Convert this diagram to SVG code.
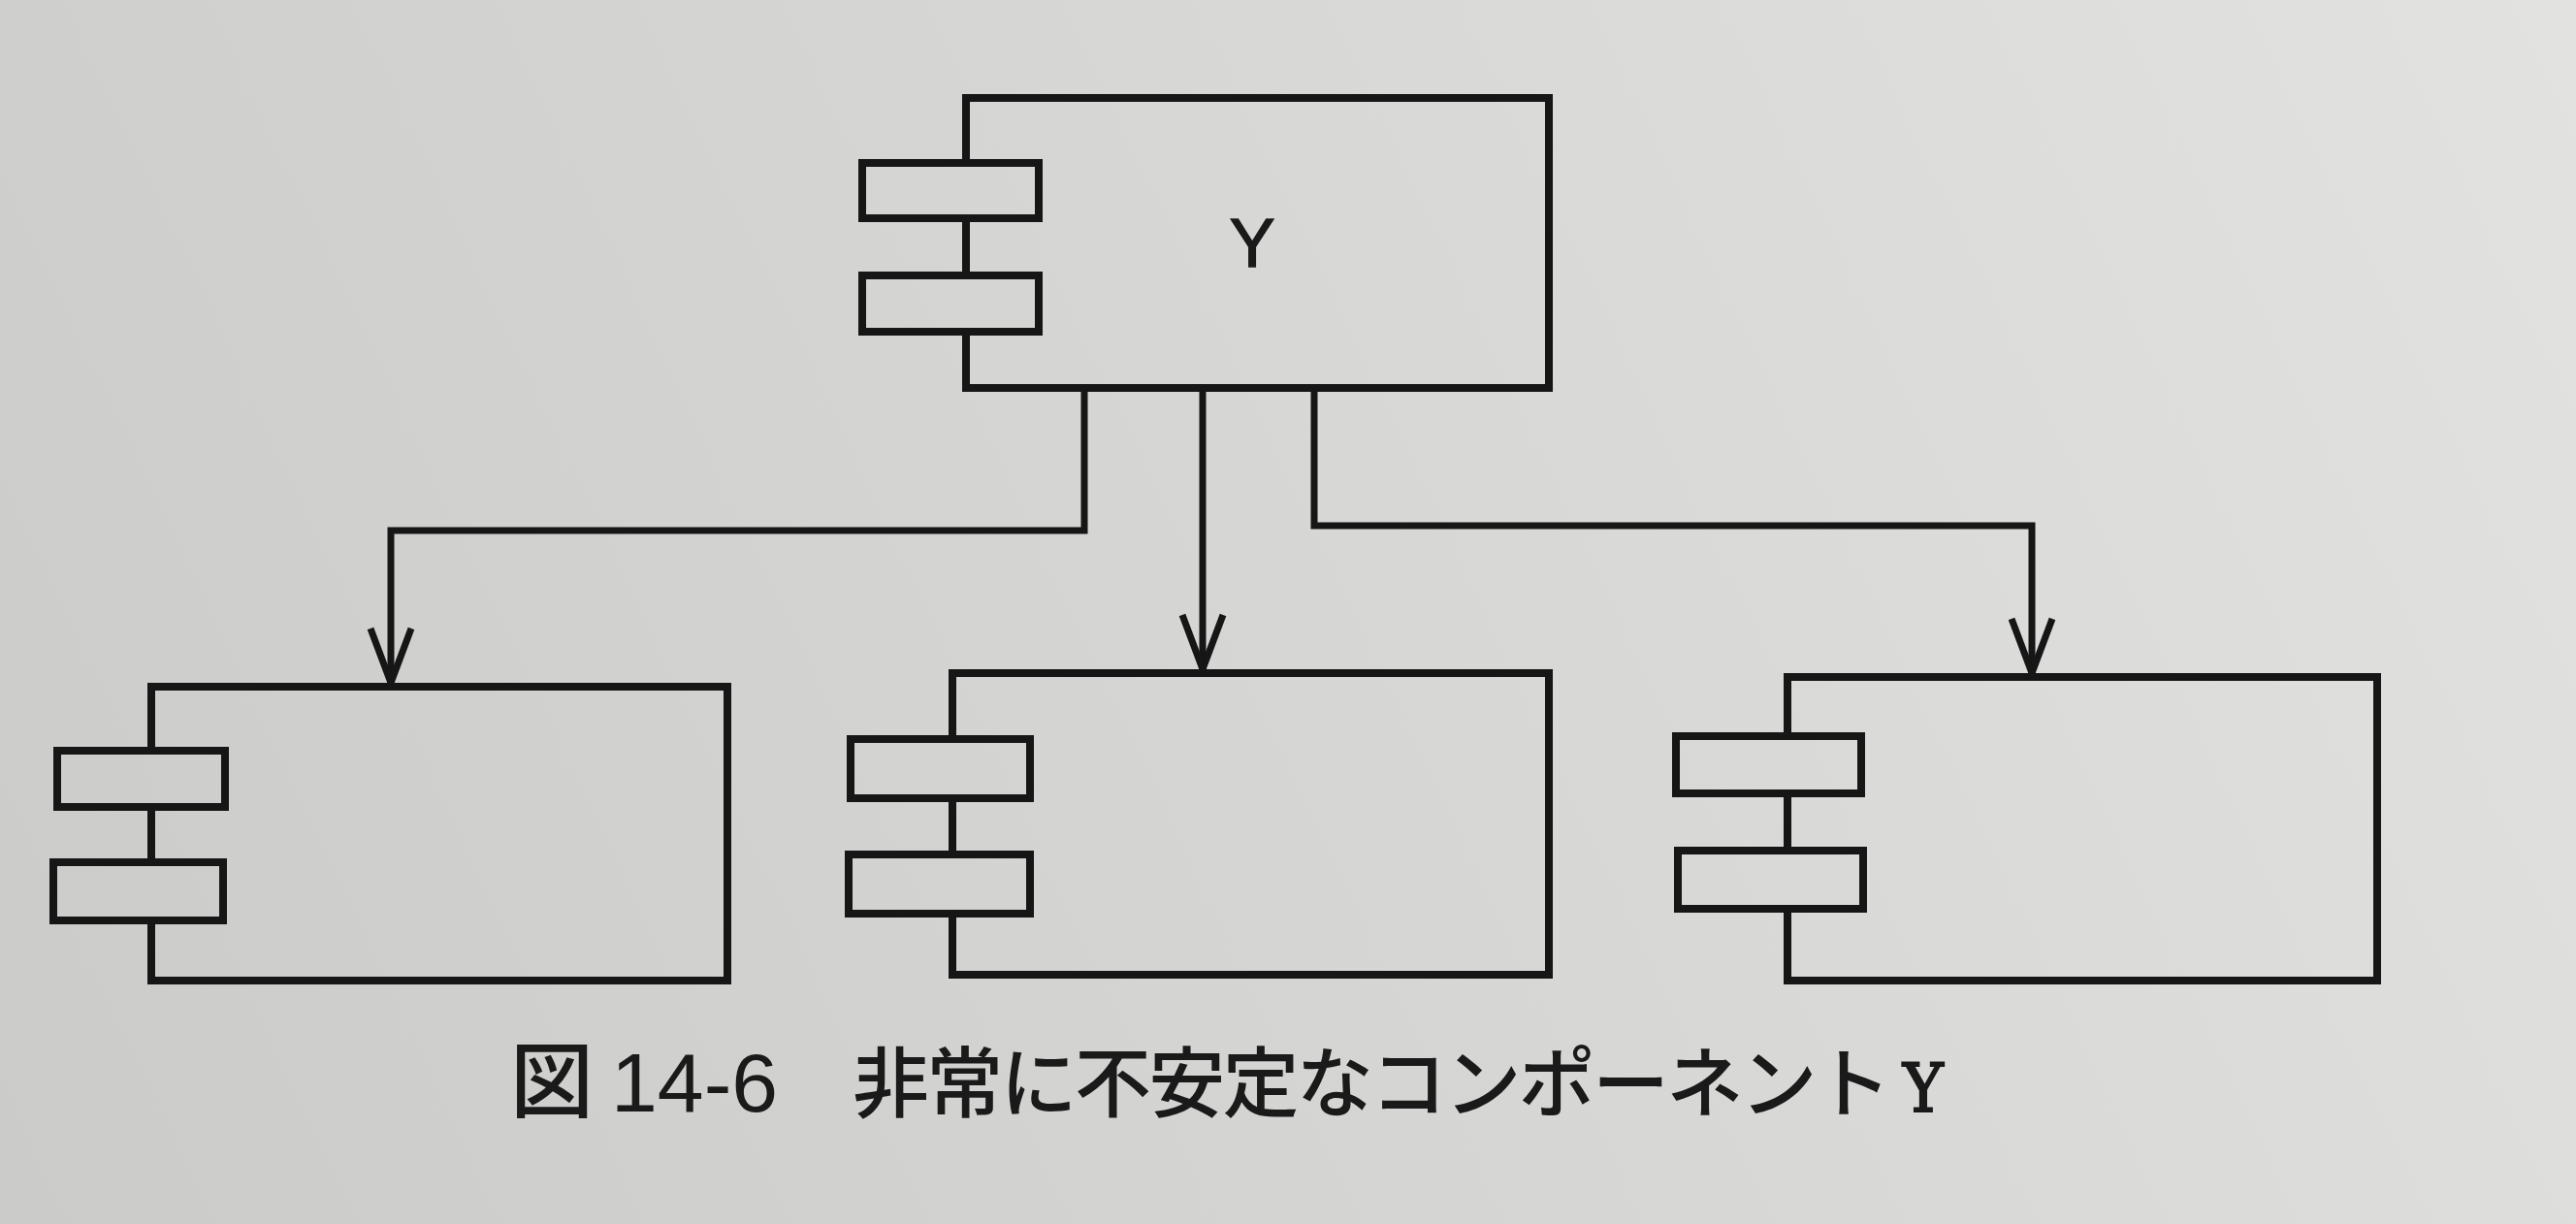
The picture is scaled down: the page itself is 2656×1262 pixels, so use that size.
<svg xmlns="http://www.w3.org/2000/svg" width="2656" height="1262" viewBox="0 0 2656 1262">
<defs>
<linearGradient id="paper" gradientUnits="userSpaceOnUse" x1="0" y1="1262" x2="2656" y2="0">
<stop offset="0" stop-color="#cbcbc9"/>
<stop offset="0.5" stop-color="#d6d6d4"/>
<stop offset="1" stop-color="#e2e2e0"/>
</linearGradient>
<marker id="arr" markerUnits="userSpaceOnUse" markerWidth="70" markerHeight="60" viewBox="-62 -30 70 60" refX="0" refY="0" orient="auto">
<path d="M-56,-21 L0,0 L-56,21" fill="none" stroke="#161616" stroke-width="7" stroke-linejoin="miter"/>
</marker>
</defs>
<style>
.box{fill:none;stroke:#161616;stroke-width:8;stroke-linejoin:miter}
.tab{fill:url(#paper);stroke:#161616;stroke-width:8}
.conn{fill:none;stroke:#161616;stroke-width:7;stroke-linejoin:miter}
.lbl{font-family:"Liberation Sans",Arial,sans-serif;fill:#1a1a1a}
.cap{font-family:"Noto Sans CJK JP","Noto Sans",sans-serif;fill:#1a1a1a;font-size:79px;font-weight:500}
</style>
<rect width="2656" height="1262" fill="url(#paper)"/>
<g id="connectors">
<path class="conn" d="M1118,400 V547 H403 V704" marker-end="url(#arr)"/>
<path class="conn" d="M1240,400 V690" marker-end="url(#arr)"/>
<path class="conn" d="M1355,400 V542 H2095 V694" marker-end="url(#arr)"/>
</g>
<g id="node-Y">
<rect class="box" x="996" y="101" width="601" height="299"/>
<rect class="tab" x="889" y="168" width="182" height="57"/>
<rect class="tab" x="889" y="284" width="182" height="58"/>
<text class="lbl" x="1291" y="275" font-size="70" text-anchor="middle" stroke="#1a1a1a" stroke-width="1.5">Y</text>
</g>
<g id="node-left">
<rect class="box" x="156" y="708" width="594" height="303"/>
<rect class="tab" x="59" y="774" width="173" height="58"/>
<rect class="tab" x="55" y="889" width="175" height="60"/>
</g>
<g id="node-middle">
<rect class="box" x="982" y="694" width="615" height="311"/>
<rect class="tab" x="877" y="762" width="185" height="61"/>
<rect class="tab" x="875" y="881" width="187" height="61"/>
</g>
<g id="node-right">
<rect class="box" x="1843" y="698" width="608" height="313"/>
<rect class="tab" x="1728" y="759" width="191" height="59"/>
<rect class="tab" x="1730" y="877" width="191" height="60"/>
</g>
<g id="caption">
<text class="cap" y="1146"><tspan x="526" font-size="86">図</tspan><tspan x="630" font-family="Liberation Sans, sans-serif" font-size="86" font-weight="normal">14-6</tspan><tspan x="879 955.3 1031.6 1107.9 1184.2 1260.5 1336.8 1413.1 1489.4 1565.7 1642 1718.3 1794.6 1870.9">非常に不安定なコンポーネント</tspan><tspan x="1962" font-family="DejaVu Serif, serif" font-size="70" font-weight="normal" font-stretch="condensed" stroke="#1a1a1a" stroke-width="2">Y</tspan></text>
</g>
</svg>
